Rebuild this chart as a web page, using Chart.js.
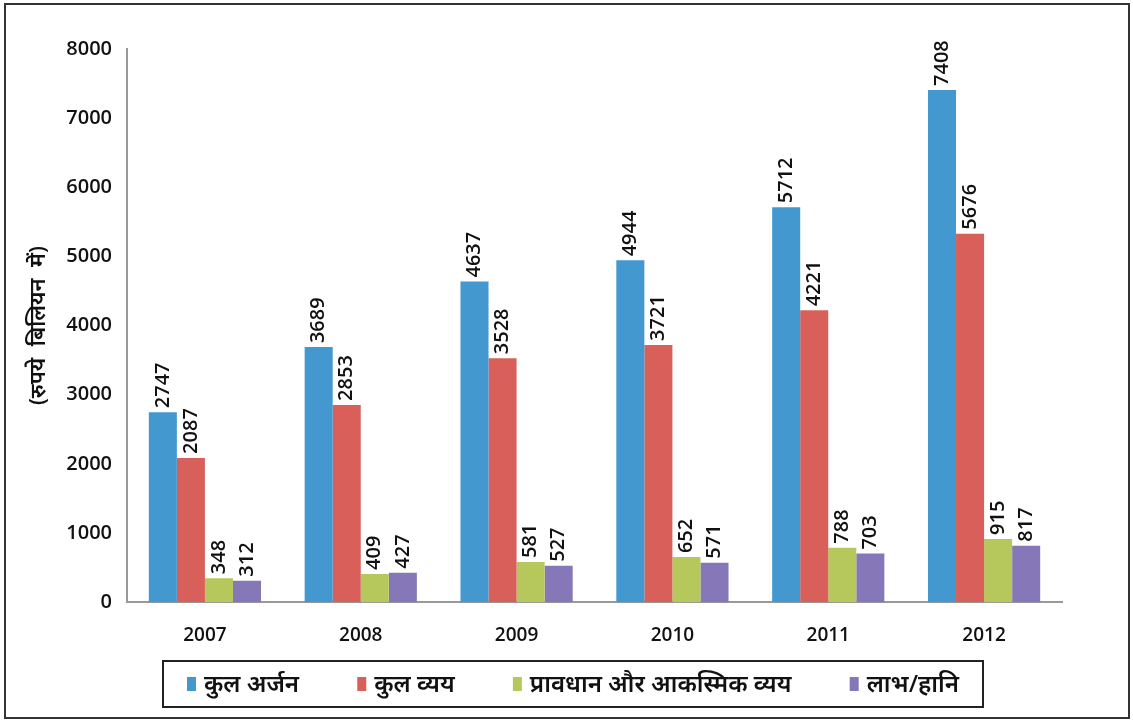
<!DOCTYPE html>
<html>
<head>
<meta charset="utf-8">
<script src="https://cdn.jsdelivr.net/npm/chart.js@4"></script>
<style>
  body { margin: 0; background: #fff; }
  #wrap { position: absolute; left: 0; top: 0; width: 1133px; height: 722px; }
  #frame { position: absolute; left: 4px; top: 3px; width: 1122px; height: 712px; border: 2px solid #333; pointer-events: none; }
</style>
</head>
<body>
<div id="wrap">
  <canvas id="myChart" width="1133" height="722"></canvas>
  <div id="frame"></div>
</div>
<script>
const years = ['2007', '2008', '2009', '2010', '2011', '2012'];
const kulArjan = [2747, 3689, 4637, 4944, 5712, 7408];
const kulVyay = [2087, 2853, 3528, 3721, 4221, 5330];
const pravdhan = [348, 409, 581, 652, 788, 915];
const labhHani = [312, 427, 527, 571, 703, 817];
// printed labels (2012 kul vyay label differs from the drawn bar)
const kulArjanText = [2747, 3689, 4637, 4944, 5712, 7408];
const kulVyayText = [2087, 2853, 3528, 3721, 4221, 5676];
const pravdhanText = [348, 409, 581, 652, 788, 915];
const labhHaniText = [312, 427, 527, 571, 703, 817];
const yTicks = [0, 1000, 2000, 3000, 4000, 5000, 6000, 7000, 8000];

const FONT = "'Open Sans', 'Noto Sans', 'Noto Sans Devanagari', sans-serif";

// rotated value labels above each bar
const barLabels = {
  id: 'barLabels',
  afterDatasetsDraw(chart) {
    const ctx = chart.ctx;
    ctx.save();
    ctx.font = '600 20px ' + FONT;
    ctx.fillStyle = '#111';
    ctx.textAlign = 'left';
    ctx.textBaseline = 'middle';
    chart.data.datasets.forEach((ds, i) => {
      chart.getDatasetMeta(i).data.forEach((bar, j) => {
        ctx.save();
        ctx.translate(bar.x, bar.y - 4);
        ctx.rotate(-Math.PI / 2);
        ctx.fillText(String(ds.texts[j]), 0, 0);
        ctx.restore();
      });
    });
    ctx.restore();
  }
};

// boxed legend under the axis
const boxLegend = {
  id: 'boxLegend',
  afterDraw(chart) {
    const ctx = chart.ctx;
    const left = 163, right = 983, top = 661, h = 46;
    const cy = top + h / 2;
    ctx.save();
    ctx.font = '600 24px ' + FONT;
    const ds = chart.data.datasets;
    const mark = 9, gapMark = 8;
    const widths = ds.map(d => mark + gapMark + ctx.measureText(d.label).width);
    const used = widths.reduce((a, b) => a + b, 0);
    const margin = 24;
    const gap = (right - left - 2 * margin - used) / (ds.length - 1);
    let x = left + margin;
    ctx.textBaseline = 'middle';
    ctx.textAlign = 'left';
    ds.forEach((d, i) => {
      ctx.fillStyle = d.backgroundColor;
      ctx.fillRect(x, cy - 7, mark, 14);
      ctx.fillStyle = '#111';
      ctx.fillText(d.label, x + mark + gapMark, cy + 1);
      x += widths[i] + gap;
    });
    ctx.strokeStyle = '#222';
    ctx.lineWidth = 2;
    ctx.strokeRect(left, top, right - left, h);
    ctx.restore();
  }
};

const ctx = document.getElementById('myChart');
new Chart(ctx, {
  type: 'bar',
  data: {
    labels: years,
    datasets: [
      { label: 'कुल अर्जन', data: kulArjan, texts: kulArjanText, backgroundColor: '#4398d0' },
      { label: 'कुल व्यय', data: kulVyay, texts: kulVyayText, backgroundColor: '#d9605a' },
      { label: 'प्रावधान और आकस्मिक व्यय', data: pravdhan, texts: pravdhanText, backgroundColor: '#b6c85c' },
      { label: 'लाभ/हानि', data: labhHani, texts: labhHaniText, backgroundColor: '#8577b8' }
    ]
  },
  options: {
    responsive: false,
    maintainAspectRatio: false,
    animation: false,
    categoryPercentage: 0.72,
    barPercentage: 1.0,
    layout: { padding: { left: 0, right: 71, top: 49, bottom: 53 } },
    plugins: {
      legend: { display: false },
      tooltip: { enabled: false }
    },
    scales: {
      x: {
        grid: { display: false, drawTicks: false },
        border: { color: '#999', width: 2 },
        ticks: { font: { family: FONT, size: 19, weight: '600' }, color: '#111', padding: 22 }
      },
      y: {
        min: 0,
        max: 8000,
        afterBuildTicks(axis) { axis.ticks = yTicks.map(v => ({ value: v })); },
        afterFit(axis) { axis.width = 127; },
        grid: { display: false, drawTicks: true, tickLength: 7, tickColor: '#999' },
        border: { color: '#999', width: 2 },
        ticks: {
          font: { family: FONT, size: 20, weight: '600' },
          color: '#111',
          padding: 8,
          callback: v => String(v)
        },
        title: {
          display: true,
          text: '(रुपये  बिलियन  में)',
          font: { family: FONT, size: 22, weight: '600' },
          color: '#111',
          padding: { top: 26, bottom: 0 }
        }
      }
    }
  },
  plugins: [barLabels, boxLegend]
});
</script>
</body>
</html>
